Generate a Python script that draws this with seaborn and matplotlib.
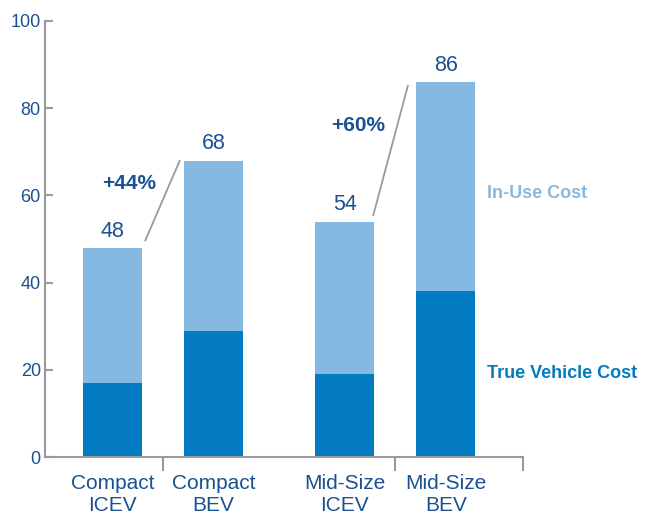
import matplotlib
matplotlib.use("Agg")
import matplotlib.pyplot as plt
import seaborn as sns
import pandas as pd

categories = ["Compact\nICEV", "Compact\nBEV", "Mid-Size\nICEV", "Mid-Size\nBEV"]
positions = [0.0, 1.0, 2.3, 3.3]
true_vehicle_cost = [17, 29, 19, 38]
total_cost = [48, 68, 54, 86]
pct_labels = ["+44%", "+60%"]

light = "#86b9e1"
dark = "#027bc2"
text_blue = "#1b5190"
grey = "#9a9a9a"

sns.set_theme(style="white")
plt.rcParams['font.family'] = ['Liberation Sans', 'DejaVu Sans']

df = pd.DataFrame({"pos": positions, "total": total_cost, "true": true_vehicle_cost})

fig = plt.figure(figsize=(6.53, 5.12), dpi=100)
ax = fig.add_axes([45/653, 55/512, (523-45)/653, (457-21)/512])

sns.barplot(data=df, x="pos", y="total", native_scale=True, color=light,
            saturation=1, width=0.585, ax=ax, edgecolor="none", linewidth=0)
sns.barplot(data=df, x="pos", y="true", native_scale=True, color=dark,
            saturation=1, width=0.585, ax=ax, edgecolor="none", linewidth=0)

ax.set_xlim(-0.668, 4.064)
ax.set_ylim(0, 100)
ax.set_xlabel("")
ax.set_ylabel("")

for s in ["top", "right"]:
    ax.spines[s].set_visible(False)
for s in ["left", "bottom"]:
    ax.spines[s].set_color(grey)
    ax.spines[s].set_linewidth(1.5)

ax.set_yticks([0, 20, 40, 60, 80, 100])
ax.tick_params(axis="y", direction="in", length=6, width=1.5, color=grey,
               labelsize=13, labelcolor=text_blue, pad=3, left=True)

ax.set_xticks(positions)
ax.set_xticklabels(categories)
ax.tick_params(axis="x", which="major", length=0, labelsize=15,
               labelcolor=text_blue, pad=12)
ax.set_xticks([0.5, 2.8, 4.064], minor=True)
ax.tick_params(axis="x", which="minor", direction="out", length=10,
               width=1.5, color=grey, bottom=True)
for lbl in ax.get_xticklabels():
    lbl.set_linespacing(1.2)

# value labels
for p, t in zip(positions, total_cost):
    ax.text(p, t + 1.4, f"{t}", ha="center", va="bottom", fontsize=15.5,
            color=text_blue)

# connector lines
ax.plot([0.322, 0.668], [49.5, 68.1], color=grey, lw=1.3, solid_capstyle="butt")
ax.plot([2.58, 2.926], [55.3, 85.3], color=grey, lw=1.3, solid_capstyle="butt")

ax.text(0.163, 62.8, pct_labels[0], ha="center", va="center", fontsize=15,
        fontweight="bold", color=text_blue)
ax.text(2.43, 76.1, pct_labels[1], ha="center", va="center", fontsize=15,
        fontweight="bold", color=text_blue)

fig.text(487/653, 1 - 194/512, "In-Use Cost", ha="left", va="center",
         fontsize=13, fontweight="bold", color=light)
fig.text(487/653, 1 - 374/512, "True Vehicle Cost", ha="left", va="center",
         fontsize=13, fontweight="bold", color=dark)

fig.savefig("out.png", dpi=100)
